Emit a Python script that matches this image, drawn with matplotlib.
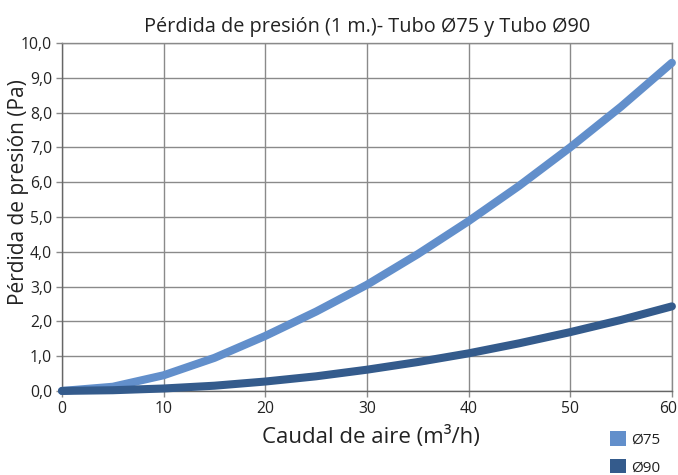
import matplotlib
matplotlib.use("Agg")
import matplotlib.pyplot as plt
from matplotlib.patches import Patch
from matplotlib.transforms import ScaledTranslation

plt.rcParams['font.family'] = ['Open Sans', 'DejaVu Sans']

caudal = [0, 5, 10, 15, 20, 25, 30, 35, 40, 45, 50, 55, 60]
tubo75 = [0.0, 0.12, 0.45, 0.95, 1.58, 2.28, 3.05, 3.93, 4.88, 5.90, 7.00, 8.17, 9.43]
tubo90 = [0.0, 0.02, 0.07, 0.15, 0.27, 0.42, 0.61, 0.83, 1.08, 1.37, 1.69, 2.04, 2.43]
series_labels = ["Ø75", "Ø90"]
xticks = [0, 10, 20, 30, 40, 50, 60]
yticks = [0, 1, 2, 3, 4, 5, 6, 7, 8, 9, 10]
title = "Pérdida de presión (1 m.)- Tubo Ø75 y Tubo Ø90"
xlabel = "Caudal de aire (m³/h)"
ylabel = "Pérdida de presión (Pa)"

c75 = "#628fcb"
c90 = "#345b8c"
grid_c = "#8a8a8a"
text_c = "#222222"

fig = plt.figure(figsize=(6.78, 4.75), dpi=100)
ax = fig.add_axes([0.0914, 0.177, 0.8996, 0.7326])

ax.plot(caudal, tubo75, color=c75, lw=5.8, solid_capstyle='round', solid_joinstyle='round', zorder=3, clip_on=False)
ax.plot(caudal, tubo90, color=c90, lw=5.8, solid_capstyle='round', solid_joinstyle='round', zorder=4, clip_on=False)

ax.set_xlim(0, 60)
ax.set_ylim(0, 10)
ax.set_xticks(xticks)
ax.set_yticks(yticks)
ax.set_xticklabels([str(v) for v in xticks])
ax.set_yticklabels([f"{v:.1f}".replace('.', ',') for v in yticks])
ax.grid(True, color=grid_c, lw=1.0)
ax.set_axisbelow(True)
for s in ax.spines.values():
    s.set_color(grid_c)
    s.set_linewidth(1.0)
ax.spines['left'].set_color('#666666')
ax.spines['bottom'].set_color('#666666')
ax.tick_params(axis='both', colors=grid_c, length=4, width=1.0, labelsize=11.3, labelcolor=text_c, pad=3)

# nudge the last x tick label so it stays inside the figure
last = ax.get_xticklabels()[-1]
last.set_transform(last.get_transform() + ScaledTranslation(-4 / 100, 0, fig.dpi_scale_trans))

ax.set_title(title, fontsize=14.3, color=text_c, pad=8)
ax.set_xlabel(xlabel, fontsize=16, color=text_c)
ax.set_ylabel(ylabel, fontsize=15, color=text_c)
ax.xaxis.set_label_coords(0.507, -0.132)
ax.yaxis.set_label_coords(-0.072, 0.572)
ax.xaxis.label.set_va('center')
ax.yaxis.label.set_va('center')

handles = [Patch(facecolor=c75, edgecolor='none'), Patch(facecolor=c90, edgecolor='none')]
fig.legend(handles, series_labels, loc='lower left', bbox_to_anchor=(0.88, -0.03),
           frameon=False, fontsize=11, handlelength=1.05, handleheight=1.05,
           handletextpad=0.3, labelspacing=0.75, labelcolor=text_c)

fig.savefig("out.png", dpi=100)
